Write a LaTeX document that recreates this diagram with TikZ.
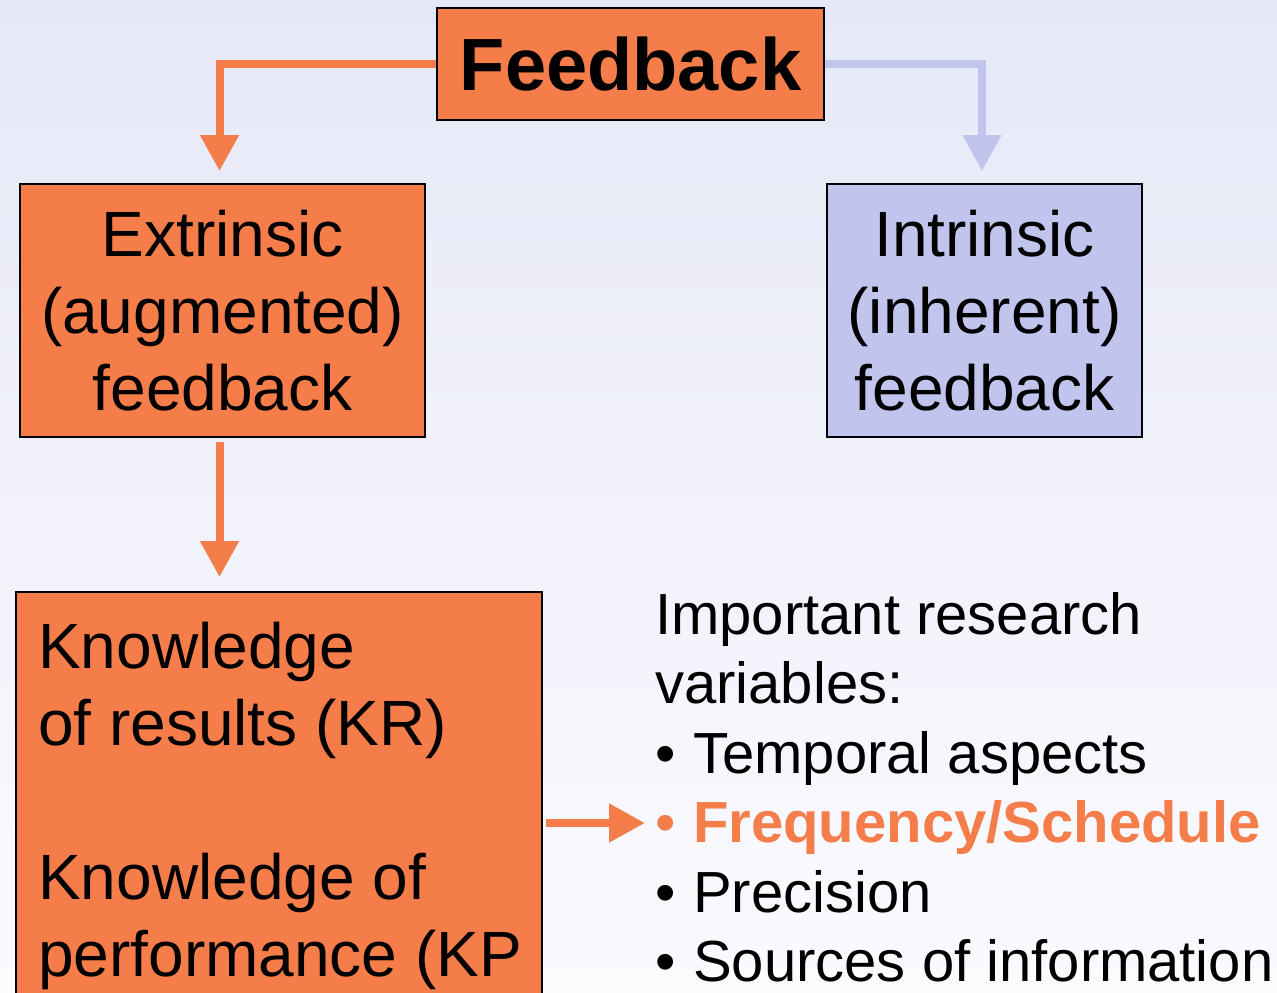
\documentclass[tikz,border=0pt]{standalone}
\usepackage{fontspec}
\setmainfont{Liberation Sans}
\usetikzlibrary{arrows.meta,calc}
\definecolor{orng}{RGB}{244,125,74}
\definecolor{lav}{RGB}{193,197,238}
\definecolor{bgtop}{RGB}{230,232,247}
\definecolor{bgbot}{RGB}{251,251,254}
\begin{document}
\begin{tikzpicture}[x=1pt,y=-1pt,
  box/.style={draw=black,line width=2pt,inner sep=0pt,align=center},
  obox/.style={box,fill=orng},
  lbox/.style={box,fill=lav},
  bigtxt/.style={font=\fontsize{64}{77}\selectfont},
  conn/.style={line width=8pt,-{Triangle[width=37pt,length=36pt]}},
  oconn/.style={conn,draw=orng},
  lconn/.style={conn,draw=lav}]
\useasboundingbox (0,0) rectangle (1277,993);
\fill[top color=bgtop,bottom color=bgbot] (0,0) rectangle (1277,993);

\node[obox,minimum width=387pt,minimum height=112pt,font=\fontsize{74}{80}\selectfont\bfseries] (fb) at (630.5,64) {Feedback};
\node[obox,bigtxt,minimum width=405pt,minimum height=253pt] (ext) at (222.5,310.5) {Extrinsic\\(augmented)\\feedback};
\node[lbox,bigtxt,minimum width=315pt,minimum height=253pt] (int) at (984.5,310.5) {Intrinsic\\(inherent)\\feedback};
\node[obox,minimum width=526pt,minimum height=508pt] (kr) at (279,846) {};
\node[anchor=north west,inner sep=0pt,align=left,font=\fontsize{64}{77}\selectfont] (krtext) at (38,622) {Knowledge\\of results (KR)\\[77pt]Knowledge of\\performance (KP};

\node[anchor=north west,inner sep=0pt,align=left,font=\fontsize{58}{69.5}\selectfont] (vars) at (655,592)
 {Important research\\variables:\\
  \makebox[38pt][l]{•}Temporal aspects\\
  \textcolor{orng}{\makebox[38pt][l]{•}\bfseries Frequency/Schedule}\\
  \makebox[38pt][l]{•}Precision\\
  \makebox[38pt][l]{•}Sources of information};

\coordinate (tipF) at (645,823);
\coordinate (extTop) at ($(ext.north)+(-3,0)$);
\coordinate (extBot) at ($(ext.south)+(-3,0)$);
\coordinate (intTop) at ($(int.north)+(-2.5,0)$);
\draw[oconn,shorten >=12pt] (fb.west) -| (extTop);
\draw[lconn,shorten >=12pt] (fb.east) -| (intTop);
\draw[oconn,shorten <=4pt,shorten >=14pt] (extBot) -- (extBot |- kr.north);
\draw[oconn] (kr.east |- tipF) ++(3,0) -- (tipF);
\end{tikzpicture}
\end{document}
